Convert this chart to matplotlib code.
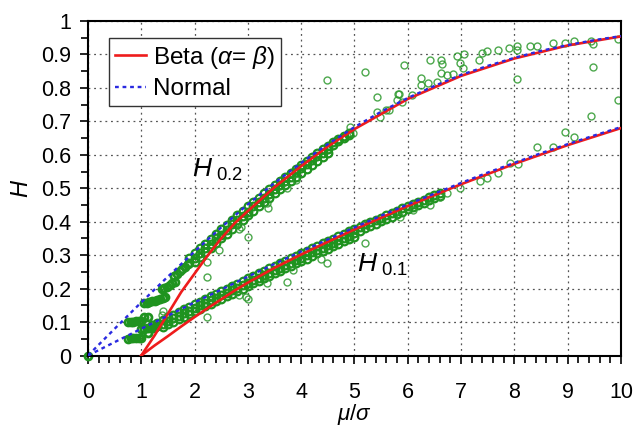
import matplotlib
matplotlib.use('Agg')
import matplotlib.pyplot as plt
from matplotlib.ticker import MultipleLocator, FormatStrFormatter

plt.rcParams['font.family'] = ['Liberation Sans', 'DejaVu Sans']
plt.rcParams['mathtext.fontset'] = 'custom'
plt.rcParams['mathtext.rm'] = 'Liberation Sans'
plt.rcParams['mathtext.it'] = 'Liberation Sans:italic'

# normal approximation, H_0.2 and H_0.1 against mu/sigma
x_norm = [0, 0.5, 1, 1.5, 2, 2.5, 3, 3.5, 4, 4.5, 5, 5.5, 6, 6.5, 7, 7.5, 8, 8.5, 9, 9.5, 10]
h02_norm = [0, 0.080, 0.159, 0.236, 0.311, 0.383, 0.452, 0.516, 0.576, 0.632, 0.683,
            0.729, 0.770, 0.806, 0.839, 0.866, 0.890, 0.911, 0.928, 0.943, 0.955]
h01_norm = [0, 0.040, 0.080, 0.119, 0.159, 0.197, 0.236, 0.274, 0.311, 0.347, 0.383,
            0.418, 0.452, 0.484, 0.516, 0.547, 0.576, 0.605, 0.632, 0.658, 0.683]

# symmetric beta, starts at mu/sigma = 1
x_beta = [1, 1.25, 1.5, 1.75, 2, 2.25, 2.5, 2.75, 3, 3.5, 4, 4.5, 5, 6, 7, 8, 9, 10]
h02_beta = [0, 0.060, 0.125, 0.190, 0.245, 0.300, 0.350, 0.395, 0.432, 0.503, 0.566,
            0.625, 0.677, 0.767, 0.836, 0.888, 0.927, 0.954]
h01_beta = [0, 0.030, 0.058, 0.087, 0.115, 0.142, 0.168, 0.194, 0.218, 0.262, 0.302,
            0.340, 0.377, 0.447, 0.512, 0.573, 0.629, 0.680]

# simulated points: dense band along H_0.2
band02_x = [1.9, 2.0, 2.1, 2.2, 2.3, 2.4, 2.5, 2.6, 2.7, 2.8, 2.9, 3.0, 3.1, 3.2, 3.3, 3.4,
            3.5, 3.6, 3.7, 3.8, 3.9, 4.0, 4.1, 4.2, 4.3, 4.4, 4.5, 4.6, 4.7, 4.8, 4.9]
band02_ya = [0.291, 0.305, 0.320, 0.334, 0.349, 0.363, 0.377, 0.391, 0.405, 0.419, 0.432,
             0.446, 0.459, 0.472, 0.485, 0.498, 0.510, 0.523, 0.535, 0.547, 0.559, 0.571,
             0.582, 0.594, 0.605, 0.616, 0.627, 0.637, 0.647, 0.656, 0.666]
band02_yb = [0.276, 0.292, 0.305, 0.322, 0.333, 0.350, 0.361, 0.376, 0.392, 0.404, 0.418,
             0.430, 0.446, 0.458, 0.472, 0.484, 0.497, 0.510, 0.522, 0.535, 0.548, 0.560,
             0.572, 0.584, 0.596, 0.606, 0.618, 0.630, 0.640, 0.650, 0.660]
band02_xc = [2.0, 2.1, 2.2, 2.3, 2.4, 2.5, 2.6, 2.7, 2.8, 2.9, 3.0, 3.1, 3.2, 3.3, 3.4,
             3.5, 3.6, 3.7, 3.8, 3.9, 4.0, 4.1, 4.2, 4.3, 4.4, 4.5]
band02_yc = [0.280, 0.294, 0.308, 0.322, 0.336, 0.350, 0.364, 0.378, 0.392, 0.405, 0.419,
             0.432, 0.446, 0.459, 0.472, 0.485, 0.497, 0.510, 0.522, 0.534, 0.546, 0.558,
             0.570, 0.581, 0.593, 0.604]

# dense band along H_0.1
band01_x = [1.2, 1.3, 1.4, 1.5, 1.6, 1.7, 1.8, 1.9, 2.0, 2.1, 2.2, 2.3, 2.4, 2.5, 2.6, 2.7,
            2.8, 2.9, 3.0, 3.1, 3.2, 3.3, 3.4, 3.5, 3.6, 3.7, 3.8, 3.9, 4.0, 4.1, 4.2, 4.3,
            4.4, 4.5, 4.6, 4.7, 4.8, 4.9, 5.0, 5.1, 5.2, 5.3, 5.4, 5.5, 5.6, 5.7, 5.8, 5.9,
            6.0, 6.1, 6.2, 6.3, 6.4, 6.5, 6.6]
band01_ya = [0.091, 0.098, 0.106, 0.114, 0.122, 0.130, 0.138, 0.146, 0.153, 0.161, 0.169,
             0.177, 0.185, 0.192, 0.200, 0.208, 0.215, 0.223, 0.231, 0.238, 0.246, 0.254,
             0.261, 0.268, 0.276, 0.283, 0.291, 0.298, 0.306, 0.313, 0.320, 0.328, 0.335,
             0.342, 0.349, 0.356, 0.363, 0.371, 0.378, 0.385, 0.392, 0.398, 0.405, 0.412,
             0.419, 0.426, 0.433, 0.440, 0.446, 0.453, 0.459, 0.466, 0.473, 0.479, 0.485]
band01_yb = [0.082, 0.088, 0.095, 0.103, 0.111, 0.119, 0.126, 0.134, 0.142, 0.150, 0.157,
             0.165, 0.172, 0.180, 0.188, 0.195, 0.203, 0.210, 0.218, 0.226, 0.233, 0.241,
             0.248, 0.256, 0.263, 0.271, 0.278, 0.286, 0.293, 0.300, 0.308, 0.315, 0.322,
             0.329, 0.337, 0.344, 0.351, 0.358, 0.365, 0.372, 0.380, 0.387, 0.394, 0.401,
             0.408, 0.415, 0.422, 0.430, 0.437, 0.444, 0.450, 0.457, 0.464, 0.470, 0.476]
band01_xc = [1.4, 1.5, 1.6, 1.7, 1.8, 1.9, 2.0, 2.1, 2.2, 2.3, 2.4, 2.5, 2.6, 2.7, 2.8, 2.9,
             3.0, 3.1, 3.2, 3.3, 3.4, 3.5, 3.6, 3.7, 3.8, 3.9, 4.0, 4.1, 4.2, 4.3, 4.4, 4.5,
             4.6, 4.7, 4.8, 4.9, 5.0]
band01_yc = [0.085, 0.093, 0.101, 0.109, 0.116, 0.124, 0.132, 0.140, 0.147, 0.155, 0.162,
             0.170, 0.178, 0.185, 0.193, 0.200, 0.208, 0.216, 0.223, 0.231, 0.238, 0.246,
             0.253, 0.261, 0.268, 0.276, 0.283, 0.290, 0.298, 0.305, 0.312, 0.319, 0.327,
             0.334, 0.341, 0.348, 0.355]

# step clusters at small mu/sigma
steps_x = [0.75, 0.8, 0.85, 0.9, 0.95, 1.0, 1.05, 1.12,
           1.05, 1.1, 1.15, 1.2, 1.25, 1.3, 1.35, 1.4, 1.45,
           1.38, 1.43, 1.48, 1.53, 1.58, 1.63,
           1.62, 1.67, 1.72, 1.77, 1.82, 1.87,
           0.75, 0.8, 0.85, 0.9, 0.95, 1.0, 1.12,
           1.0, 1.05, 1.1, 1.15, 1.2, 1.25, 1.3, 0]
steps_y = [0.100, 0.101, 0.101, 0.102, 0.102, 0.103, 0.116, 0.116,
           0.156, 0.158, 0.160, 0.162, 0.164, 0.166, 0.168, 0.171, 0.174,
           0.198, 0.202, 0.206, 0.211, 0.216, 0.221,
           0.238, 0.244, 0.252, 0.259, 0.266, 0.273,
           0.050, 0.051, 0.051, 0.052, 0.052, 0.053, 0.066,
           0.079, 0.080, 0.081, 0.082, 0.083, 0.085, 0.087, 0]

# scattered outliers
out_x = [2.24, 2.23, 2.45, 2.84, 3.0, 2.88, 3.35, 3.38, 3.73, 3.91, 1.41, 1.38,
         2.24, 3.0, 2.84, 3.35, 3.73, 3.85, 2.96, 4.48, 4.38, 5.2,
         4.92, 4.98, 5.42, 5.48, 5.6, 5.64, 5.79, 5.82, 5.9, 6.07,
         4.48, 5.2, 5.42, 5.92, 5.84, 6.24, 6.24, 6.38, 6.41, 6.63, 6.65, 6.63, 6.73,
         6.84, 6.54, 6.92, 7.05, 6.98, 7.03, 7.34, 7.39, 7.48, 7.70, 7.89, 8.04, 8.04,
         8.05, 8.29, 8.43, 8.72, 8.95, 9.12, 9.43, 9.48, 9.48, 9.95, 9.95,
         5.85, 6.1, 6.41, 6.6, 6.73, 6.98, 7.35, 7.48, 7.70, 7.92, 8.07, 8.43, 8.72,
         8.95, 9.12, 9.43]
out_y = [0.236, 0.280, 0.315, 0.377, 0.353, 0.385, 0.455, 0.440, 0.500, 0.525, 0.134, 0.121,
         0.116, 0.168, 0.181, 0.216, 0.221, 0.256, 0.176, 0.277, 0.290, 0.337,
         0.684, 0.664, 0.729, 0.714, 0.734, 0.734, 0.764, 0.782, 0.759, 0.779,
         0.824, 0.848, 0.772, 0.868, 0.781, 0.829, 0.809, 0.814, 0.883, 0.885, 0.871, 0.844,
         0.839, 0.842, 0.819, 0.895, 0.901, 0.874, 0.859, 0.883, 0.905, 0.911, 0.913, 0.918,
         0.925, 0.913, 0.827, 0.926, 0.926, 0.933, 0.935, 0.941, 0.941, 0.931, 0.863,
         0.945, 0.764,
         0.415, 0.435, 0.450, 0.475, 0.485, 0.500, 0.522, 0.531, 0.546, 0.575, 0.572, 0.622,
         0.623, 0.668, 0.653, 0.715]

fig = plt.figure(figsize=(6.33, 4.25), dpi=100)
ax = fig.add_axes([0.139, 0.1635, 0.842, 0.787])

green = '#1f931f'
# dense bands drawn with heavier circles so they merge into a solid strip
band_x = band02_x + band02_x + band02_xc + band01_x + band01_x + band01_xc
band_y = band02_ya + band02_yb + band02_yc + band01_ya + band01_yb + band01_yc
ax.plot(band_x, band_y, 'o', mfc='none', mec=green, ms=5.5, mew=1.6, zorder=2)
ax.plot(steps_x, steps_y, 'o', mfc='none', mec=green, ms=5.0, mew=2.0, zorder=2,
        clip_on=False)
ax.plot(out_x, out_y, 'o', mfc='none', mec='#2e992e', ms=5.0, mew=1.0, zorder=2, alpha=0.85)

ax.plot(x_beta, h02_beta, color='#ee1c1c', lw=1.9, zorder=3, label=r'Beta ($\alpha$= $\beta$)')
ax.plot(x_beta, h01_beta, color='#ee1c1c', lw=1.9, zorder=3)
ax.plot(x_norm, h02_norm, color='#2a2ae0', lw=1.7, ls=(0, (1.6, 1.6)), zorder=4, label='Normal')
ax.plot(x_norm, h01_norm, color='#2a2ae0', lw=1.7, ls=(0, (1.6, 1.6)), zorder=4)

ax.set_xlim(0, 10)
ax.set_ylim(0, 1)
ax.xaxis.set_major_locator(MultipleLocator(1))
ax.xaxis.set_minor_locator(MultipleLocator(0.2))
ax.yaxis.set_major_locator(MultipleLocator(0.1))
ax.yaxis.set_minor_locator(MultipleLocator(0.05))
ax.yaxis.set_major_formatter(FormatStrFormatter('%g'))
ax.tick_params(which='both', direction='out', top=False, right=False, labelsize=15.5, width=1.2)
ax.tick_params(axis='x', which='major', length=6, pad=13)
ax.tick_params(axis='x', which='minor', length=5)
ax.tick_params(axis='y', which='major', length=6, pad=6)
ax.tick_params(axis='y', which='minor', length=5)
for s in ax.spines.values():
    s.set_linewidth(1.5)

ax.grid(True, which='major', color='#555555', ls=(0, (1.5, 3)), lw=0.9)
ax.set_axisbelow(True)

ax.set_xlabel(r'$\mu/\sigma$', fontsize=16, labelpad=-1)
ax.set_ylabel(r'$H$', fontsize=17, labelpad=6)

ax.text(1.95, 0.555, r'$H_{\rm \ 0.2}$', fontsize=19, va='center')
ax.text(5.04, 0.27, r'$H_{\rm \ 0.1}$', fontsize=19, va='center')

leg = ax.legend(loc='upper left', bbox_to_anchor=(0.04, 0.95), fontsize=17.5, frameon=True,
                fancybox=False, borderpad=0.25, handlelength=1.25, handletextpad=0.3,
                labelspacing=0.3, borderaxespad=0)
leg.get_frame().set_edgecolor('#333333')
leg.get_frame().set_linewidth(1.0)
leg.get_frame().set_alpha(1)

fig.savefig('out.png', dpi=100)
